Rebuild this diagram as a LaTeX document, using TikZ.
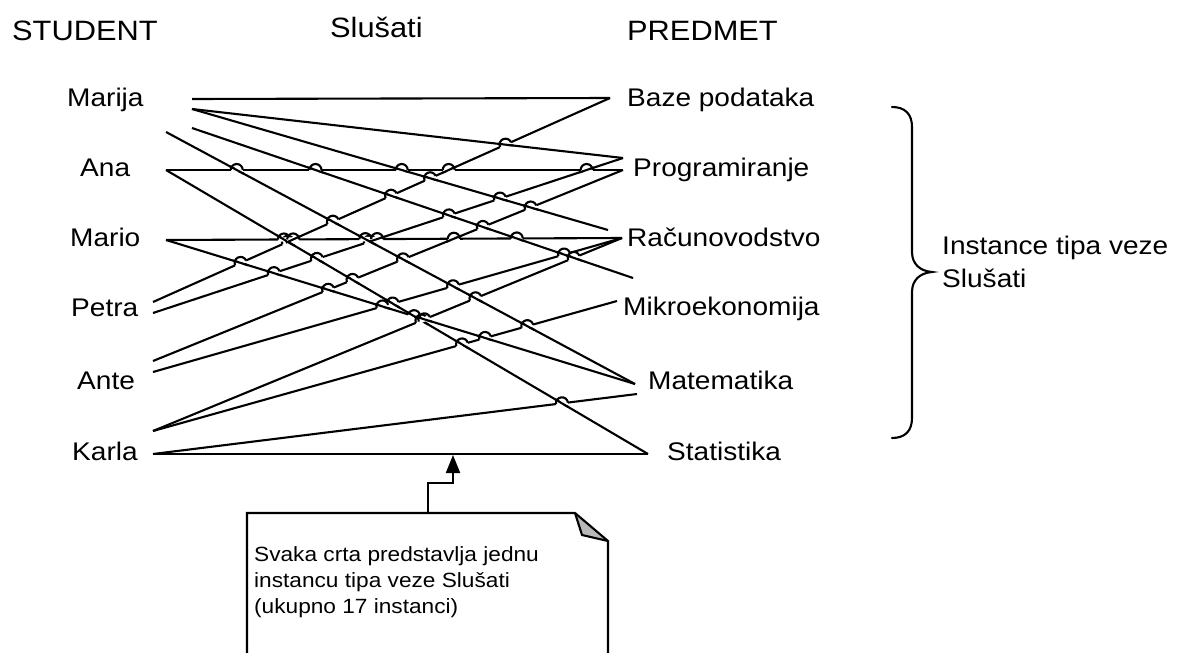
\documentclass[tikz,border=0pt]{standalone}
\usepackage{fontspec}
\setmainfont{Liberation Sans}[FakeStretch=1.1]
\usetikzlibrary{calc,arrows.meta}
\newdimen\ptx
\newdimen\pty
% store the canvas coordinates of a named point as plain numbers
\newcommand\storepoint[3]{%
  \pgfextractx{\ptx}{\pgfpointanchor{#1}{center}}%
  \pgfextracty{\pty}{\pgfpointanchor{#1}{center}}%
  \pgfmathsetmacro\tmpnum{\ptx}\expandafter\xdef\csname #2\endcsname{\tmpnum}%
  \pgfmathsetmacro\tmpnum{\pty}\expandafter\xdef\csname #3\endcsname{\tmpnum}}
\begin{document}
\begin{tikzpicture}[x=1pt,y=-1pt,
  link/.style={line width=2.1pt, line cap=butt},
  eraser/.style={white, line width=4.4pt, line cap=butt},
  lbl/.style={anchor=base west, inner sep=0pt, font=\fontsize{25.5}{30}\selectfont},
  head/.style={anchor=base west, inner sep=0pt, font=\fontsize{28}{34}\selectfont},
  notetext/.style={anchor=north west, inner sep=0pt, align=left, font=\fontsize{20.6}{26}\selectfont},
  brace/.style={line width=2.1pt, line cap=round},
  pointer/.style={line width=2.1pt, -{Triangle[width=14pt,length=18pt]}}]
\useasboundingbox (0,0) rectangle (1179,653);
\fill[white] (0,0) rectangle (1179,653);
\clip (0,0) rectangle (1179,653);

% column headers
\node[head] (hstud) at (12,40) {STUDENT};
\node[head] (hrel)  at (330,37) {Slušati};
\node[head] (hpred) at (627,40) {PREDMET};

% students
\node[lbl] (nmarija) at (67,106)  {Marija};
\node[lbl] (nana)    at (80,176)  {Ana};
\node[lbl] (nmario)  at (70,246)  {Mario};
\node[lbl] (npetra)  at (71,316)  {Petra};
\node[lbl] (nante)   at (77,389)  {Ante};
\node[lbl] (nkarla)  at (72,460)  {Karla};

% courses
\node[lbl] (nbaze)  at (627,106) {Baze podataka};
\node[lbl] (nprog)  at (633,176) {Programiranje};
\node[lbl] (nracun) at (627,246) {Računovodstvo};
\node[lbl] (nmikro) at (623,315) {Mikroekonomija};
\node[lbl] (nmat)   at (648,389) {Matematika};
\node[lbl] (nstat)  at (667,460) {Statistika};

% line end points
\coordinate (mar1)   at (192,99);
\coordinate (mar2)   at (192,109);
\coordinate (mar3)   at (192,128);
\coordinate (ana0)   at (166,132);
\coordinate (ana1)   at (166,170);
\coordinate (mario)  at (166,240);
\coordinate (petra1) at (153,302);
\coordinate (petra2) at (153,313);
\coordinate (ante1)  at (153,361);
\coordinate (ante2)  at (153,372);
\coordinate (karla1) at (153,431);
\coordinate (karla2) at (153,454);
\coordinate (baze)   at (610,98);
\coordinate (prog1)  at (623,158);
\coordinate (prog2)  at (623,170);
\coordinate (racun0) at (608,230);
\coordinate (racun)  at (622,238);
\coordinate (mikro0) at (633,278);
\coordinate (mikro)  at (617,301);
\coordinate (mat1)   at (635,384);
\coordinate (mat2)   at (637,394);
\coordinate (stat)   at (648,454);

% the 17 instances; later lines hop over earlier ones
\foreach \a/\b [count=\k] in {
  mar2/prog1, mar2/racun0, mar3/mikro0, ana0/mat1, ana1/stat, mario/mat1,
  petra1/baze, petra2/prog1, ante1/prog2, ante2/racun, karla1/racun,
  karla1/mikro, karla2/mat2,
  mar1/baze, ana1/prog2, mario/racun, karla2/stat} {
  \coordinate (ls\k) at (\a);
  \coordinate (le\k) at (\b);
  \storepoint{\a}{xa\k}{ya\k}
  \storepoint{\b}{xb\k}{yb\k}
  \draw[link] (\a) -- (\b);
}

% line jumps at the crossings
\foreach \i in {1,...,16} {
  \pgfmathtruncatemacro\jfirst{\i+1}
  \foreach \j in {\jfirst,...,17} {
    \edef\Xa{\csname xa\i\endcsname}\edef\Ya{\csname ya\i\endcsname}
    \edef\Xb{\csname xb\i\endcsname}\edef\Yb{\csname yb\i\endcsname}
    \edef\Xc{\csname xa\j\endcsname}\edef\Yc{\csname ya\j\endcsname}
    \edef\Xd{\csname xb\j\endcsname}\edef\Yd{\csname yb\j\endcsname}
    \edef\Dn{\fpeval{((\Xb)-(\Xa))*((\Yd)-(\Yc))-((\Yb)-(\Ya))*((\Xd)-(\Xc))}}
    \edef\Dn{\fpeval{abs(\Dn)<0.000001 ? 0.000001 : (\Dn)}}
    \edef\Tp{\fpeval{(((\Xc)-(\Xa))*((\Yd)-(\Yc))-((\Yc)-(\Ya))*((\Xd)-(\Xc)))/(\Dn)}}
    \edef\Up{\fpeval{(((\Xc)-(\Xa))*((\Yb)-(\Ya))-((\Yc)-(\Ya))*((\Xb)-(\Xa)))/(\Dn)}}
    \ifnum\fpeval{((\Tp)>0.03 && (\Tp)<0.97 && (\Up)>0.03 && (\Up)<0.97) ? 1 : 0}=1
      \edef\Ix{\fpeval{round((\Xa)+(\Tp)*((\Xb)-(\Xa)),3)}}
      \edef\Iy{\fpeval{round((\Ya)+(\Tp)*((\Yb)-(\Ya)),3)}}
      \edef\Ang{\fpeval{round(atand((\Yd)-(\Yc),(\Xd)-(\Xc)),3)}}
      \draw[eraser, shift={(\Ix pt,\Iy pt)}, rotate=\Ang] (-6pt,0pt) -- (6pt,0pt);
      \begin{scope}
        \clip (\Ix pt,\Iy pt) circle[radius=8pt];
        \draw[link] (ls\i) -- (le\i);
      \end{scope}
      \draw[link, shift={(\Ix pt,\Iy pt)}, rotate=\Ang]
        (-6pt,0pt) arc[start angle=180, end angle=0, radius=6pt];
    \fi
  }
}

% brace grouping the instances
\draw[brace] (892,107) .. controls (905,107) and (912,114) .. (912,127)
  -- (912,252) .. controls (912,264) and (920,271) .. (932,272)
  .. controls (920,273) and (912,280) .. (912,292)
  -- (912,418) .. controls (912,431) and (905,438) .. (892,438);
\node[lbl] (ninst1) at (942,254) {Instance tipa veze};
\node[lbl] (ninst2) at (942,287) {Slušati};

% comment note with folded corner
\fill[gray!55] (575,513) -- (582,535) -- (608,541) -- cycle;
\draw[link, line join=miter] (247,680) -- (247,513) -- (575,513) -- (608,541) -- (608,680);
\draw[link, line join=round] (575,513) -- (582,535) -- (608,541);
\node[notetext] (note) at (254,546)
  {Svaka crta predstavlja jednu\\instancu tipa veze Slušati\\(ukupno 17 instanci)};

% pointer from the note to the instances
\coordinate (notetop) at (428,513);
\coordinate (elbow) at (453,483);
\coordinate (tip) at (453,455);
\draw[pointer] (notetop) |- (elbow) -- (tip);
\end{tikzpicture}
\end{document}
